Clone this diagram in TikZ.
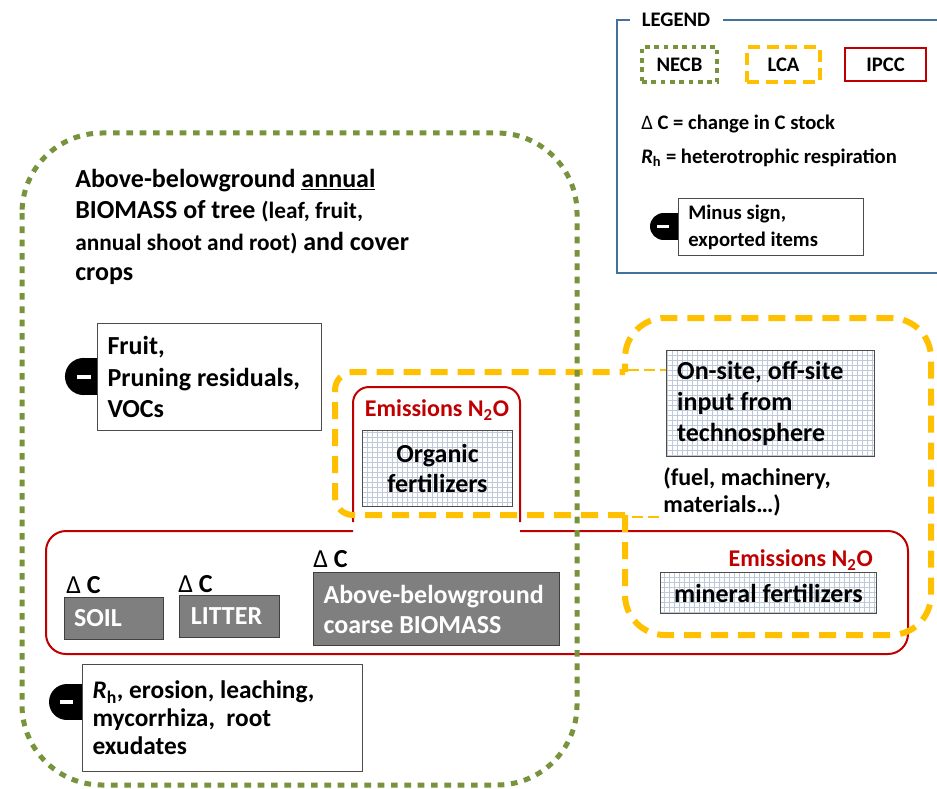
\documentclass[tikz,border=0pt]{standalone}
\usepackage{fontspec}
\setmainfont{Carlito}
\frenchspacing
\definecolor{necbgreen}{RGB}{119,147,60}
\definecolor{lcayellow}{RGB}{255,192,0}
\definecolor{ipccred}{RGB}{192,0,0}
\definecolor{legblue}{RGB}{65,113,156}
\definecolor{boxgray}{RGB}{127,127,127}
\definecolor{gridcol}{RGB}{190,202,218}
\newcommand\smtxt{\fontsize{17.5}{20}\selectfont}
\begin{document}
\begin{tikzpicture}[x=0.75pt,y=-0.75pt,
  txt/.style={font=\fontsize{19.5}{23.4}\selectfont\bfseries, inner sep=0pt},
  legtxt/.style={font=\fontsize{15.5}{20.25}\selectfont\bfseries, inner sep=0pt},
  necb/.style={draw=necbgreen, line width=3.75pt, dash pattern=on 5pt off 5pt},
  necbsmall/.style={draw=necbgreen, line width=3pt, dash pattern=on 3.5pt off 3.5pt},
  lca/.style={draw=lcayellow, line width=4.5pt, dash pattern=on 12.75pt off 7.5pt},
  lcasmall/.style={draw=lcayellow, line width=3pt, dash pattern=on 9pt off 5pt},
  lcathin/.style={draw=lcayellow, line width=1.1pt, dash pattern=on 8pt off 4pt},
  ipcc/.style={draw=ipccred, line width=1.5pt},
  legline/.style={draw=legblue, line width=1.2pt},
  whitebox/.style={draw=black!70, line width=0.75pt, fill=white, inner ysep=0pt},
  gridbox/.style={whitebox, path picture={\draw[gridcol, line width=0.35pt, step=3.75pt]
      (path picture bounding box.south west) grid (path picture bounding box.north east);}},
  graybox/.style={fill=boxgray, draw=black!75, line width=0.75pt, text=white, inner ysep=0pt},
  redtxt/.style={txt, text=ipccred, font=\fontsize{18}{21}\selectfont\bfseries}
]
\useasboundingbox (0,0) rectangle (937,788);

% ---------------- Legend ----------------
\draw[legline] (630,20) -- (617,20) -- (617,273) -- (937,273);
\draw[legline] (723,20) -- (937,20);
\node[legtxt] (legend) at (676,20) {LEGEND};
\node[necbsmall, legtxt, minimum width=56.25pt, minimum height=26.25pt] (necbkey) at (679.5,64.5) {NECB};
\node[lcasmall, legtxt, minimum width=54.75pt, minimum height=26.25pt] (lcakey) at (783.5,64.5) {LCA};
\node[ipcc, legtxt, minimum width=60.75pt, minimum height=24.75pt] (ipcckey) at (885.5,64.5) {IPCC};
\node[legtxt, anchor=base west] (dckey) at (641,129) {{\mdseries Δ} C = change in C stock};
\node[legtxt, anchor=base west] (rhkey) at (641,163) {\textit{R}\textsubscript{h} = heterotrophic respiration};
\fill (663.5,226.5) circle[radius=10.1pt];
\fill (663.5,213) rectangle (678,240);
\draw[white, line width=2.6pt] (657,226.5) -- (669,226.5);
\node[whitebox, legtxt, anchor=north west, minimum width=138.75pt, minimum height=42.75pt,
      text width=124pt, align=flush left, inner xsep=7pt] (minuskey) at (678,198)
      {Minus sign,\\exported items};

% ---------------- IPCC (red) ----------------
\draw[ipcc, rounded corners=12pt] (353,522) -- (353,387) -- (520,387) -- (520,522);
\draw[ipcc, rounded corners=15pt] (353,531) -- (46,531) -- (46,654) -- (908,654) -- (908,531) -- (520,531);

% ---------------- LCA (yellow) ----------------
\draw[lca, rounded corners=13.5pt] (625,515) -- (335,515) -- (335,372) -- (625,372);
\draw[lca, rounded corners=30pt] (625,515) -- (625,635) -- (931,635) -- (931,318) -- (625,318) -- (625,372);
\draw[lcathin] (628,370) -- (666,370);
\draw[lcathin] (632,517) -- (662,517);

% ---------------- NECB (green) ----------------
\draw[necb, rounded corners=60pt] (22,133) rectangle (577,785);

% ---------------- Title text ----------------
\node[txt, anchor=base west] (t1) at (75,187) {Above-belowground \underline{annual}};
\node[txt, anchor=base west] (t2) at (75,218) {BIOMASS of tree {\smtxt(leaf, fruit,}};
\node[txt, anchor=base west] (t3) at (75,250) {{\smtxt annual shoot and root)} and cover};
\node[txt, anchor=base west] (t4) at (75,280) {crops};

% ---------------- Fruit box ----------------
\fill (83.5,376.5) circle[radius=13.9pt];
\fill (83.5,358) rectangle (99,395);
\draw[white, line width=3pt] (77,376.5) -- (91,376.5);
\node[whitebox, txt, anchor=north west, minimum width=168pt, minimum height=80.25pt,
      text width=153pt, align=flush left, inner xsep=7.5pt, font=\fontsize{19.5}{23.6}\selectfont\bfseries] (fruit) at (97,323)
      {Fruit,\\Pruning residuals,\\VOCs};

% ---------------- Organic fertilizers ----------------
\node[redtxt] (emorg) at (437,410) {Emissions N\textsubscript{2}O};
\node[gridbox, txt, anchor=north west, minimum width=112.5pt, minimum height=57pt, align=center,
      font=\fontsize{19.5}{22.5}\selectfont\bfseries] (organic) at (362,430) {Organic\\fertilizers};

% ---------------- Technosphere ----------------
\node[gridbox, txt, anchor=north west, minimum width=156pt, minimum height=79.5pt,
      text width=140pt, align=flush left, inner xsep=8pt, font=\fontsize{19.5}{23}\selectfont\bfseries] (onsite) at (666,350)
      {On-site, off-site\\input from\\technosphere};
\node[txt, anchor=west, align=left, font=\fontsize{18}{20.25}\selectfont\bfseries] (fuel) at (663,491.5)
      {(fuel, machinery,\\materials…)};

% ---------------- Mineral fertilizers ----------------
\node[redtxt, anchor=east] (emmin) at (873,560) {Emissions N\textsubscript{2}O};
\node[gridbox, txt, anchor=north west, minimum width=162pt, minimum height=30.75pt] (mineral) at (660,572)
      {mineral fertilizers};

% ---------------- Stocks ----------------
\node[txt, anchor=base west] (dcsoil) at (66,593) {{\mdseries Δ} C};
\node[txt, anchor=base west] (dclitter) at (178,592) {{\mdseries Δ} C};
\node[txt, anchor=base west] (dcbio) at (313,567) {{\mdseries Δ} C};
\node[graybox, txt, anchor=north west, minimum width=74.25pt, minimum height=31.5pt,
      text width=60pt, align=flush left, inner xsep=6.75pt] (soil) at (64,597) {SOIL};
\node[graybox, txt, anchor=north west, minimum width=75pt, minimum height=31.5pt,
      text width=58pt, align=flush left, inner xsep=8pt] (litter) at (179,595) {LITTER};
\node[graybox, txt, anchor=north west, minimum width=184.5pt, minimum height=54.75pt,
      text width=169.5pt, align=flush left, inner xsep=7.5pt, font=\fontsize{19.5}{22.5}\selectfont\bfseries] (biomass) at (313,572)
      {Above-belowground\\coarse BIOMASS};

% ---------------- Losses box ----------------
\fill (67,702) circle[radius=13.5pt];
\fill (67,684) rectangle (82,720);
\draw[white, line width=3pt] (60,702) -- (73,702);
\node[whitebox, txt, anchor=north west, minimum width=210pt, minimum height=80.25pt,
      text width=195pt, align=flush left, inner xsep=7.5pt, font=\fontsize{19}{21}\selectfont\bfseries] (losses) at (82,664)
      {\textit{R}\textsubscript{h}, erosion, leaching,\\mycorrhiza,~ root\\exudates};
\end{tikzpicture}
\end{document}
